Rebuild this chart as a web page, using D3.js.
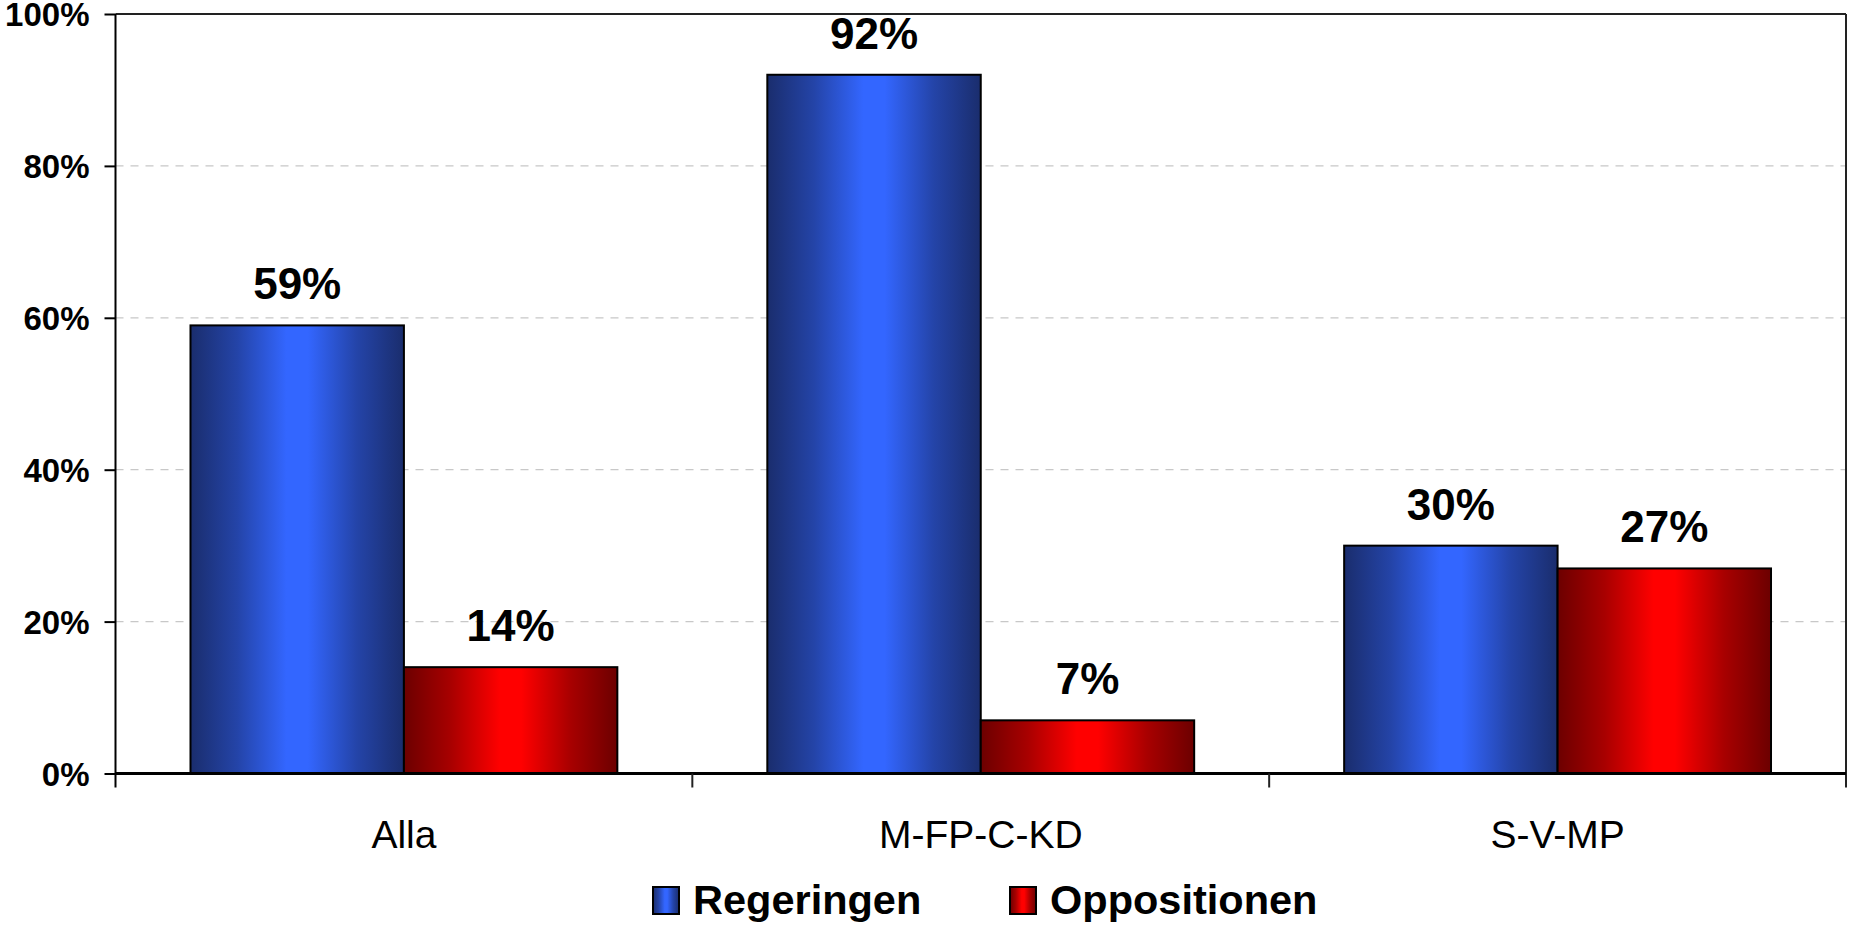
<!DOCTYPE html>
<html>
<head>
<meta charset="utf-8">
<script src="https://cdn.jsdelivr.net/npm/d3@7"></script>
<style>
  html, body { margin: 0; padding: 0; background: #fff; }
  svg { display: block; font-family: "Liberation Sans", Arial, Helvetica, sans-serif; }
</style>
</head>
<body>
<svg id="chart" width="1849" height="926"></svg>
<script>
const categories = ["Alla", "M-FP-C-KD", "S-V-MP"];
const seriesNames = ["Regeringen", "Oppositionen"];
const regeringen = [0.59, 0.92, 0.30];
const oppositionen = [0.14, 0.07, 0.27];
const yTicks = [0, 0.2, 0.4, 0.6, 0.8, 1.0];

(function () {
const seriesValues = [regeringen, oppositionen];
const rows = categories.map((c, i) => ({ cat: c, vals: seriesNames.map((s, j) => ({ series: s, idx: j, value: seriesValues[j][i] })) }));

const pLeft = 115.5, pRight = 1846, pTop = 14, pBottom = 773.5;

const svg = d3.select("#chart");
const defs = svg.append("defs");

function grad(id, dark, mid, bright) {
  const g = defs.append("linearGradient").attr("id", id).attr("x1", "0%").attr("x2", "100%").attr("y1", "0%").attr("y2", "0%");
  [[0, dark], [0.22, mid], [0.45, bright], [0.55, bright], [0.78, mid], [1, dark]].forEach(([o, c]) =>
    g.append("stop").attr("offset", o).attr("stop-color", c));
}
grad("gBlue", "#1a2d6d", "#2444a8", "#3366ff");
grad("gRed", "#6c0000", "#a80000", "#ff0000");
const fills = ["url(#gBlue)", "url(#gRed)"];

const x0 = d3.scaleBand().domain(categories).range([pLeft, pRight]).paddingInner(0).paddingOuter(0);
const bw = x0.bandwidth();
const x1 = d3.scaleBand().domain(seriesNames).range([bw * 0.13, bw * 0.87]).padding(0);
const y = d3.scaleLinear().domain([0, 1]).range([pBottom, pTop]);

// gridlines
svg.append("g").selectAll("line").data(yTicks.filter(t => t > 0 && t < 1)).join("line")
  .attr("x1", pLeft).attr("x2", pRight)
  .attr("y1", d => y(d)).attr("y2", d => y(d))
  .attr("stroke", "#c8c8c8").attr("stroke-width", 1.2).attr("stroke-dasharray", "8,7");

// plot border top & right
svg.append("line").attr("x1", pLeft).attr("x2", pRight).attr("y1", y(1)).attr("y2", y(1)).attr("stroke", "#222").attr("stroke-width", 2);
svg.append("line").attr("x1", pRight).attr("x2", pRight).attr("y1", y(1)).attr("y2", pBottom + 14).attr("stroke", "#222").attr("stroke-width", 2);

// bars
const groups = svg.append("g").selectAll("g").data(rows).join("g")
  .attr("transform", d => `translate(${x0(d.cat)},0)`);
groups.selectAll("rect").data(d => d.vals).join("rect")
  .attr("x", d => x1(d.series))
  .attr("y", d => y(d.value))
  .attr("width", x1.bandwidth())
  .attr("height", d => pBottom - y(d.value))
  .attr("fill", d => fills[d.idx])
  .attr("stroke", "#000").attr("stroke-width", 2);

// value labels
groups.selectAll("text").data(d => d.vals).join("text")
  .attr("x", d => x1(d.series) + x1.bandwidth() / 2)
  .attr("y", d => y(d.value) - 26)
  .attr("text-anchor", "middle")
  .attr("font-size", 44).attr("font-weight", "bold").attr("fill", "#000")
  .text(d => Math.round(d.value * 100) + "%");

// y axis
const yAxis = d3.axisLeft(y).tickValues(yTicks).tickFormat(d3.format(".0%")).tickSize(11).tickPadding(15);
const ya = svg.append("g").attr("transform", `translate(${pLeft},0)`).call(yAxis);
ya.select(".domain").remove();
ya.selectAll(".tick line").attr("stroke", "#000").attr("stroke-width", 2);
ya.selectAll(".tick text").attr("font-size", 33).attr("font-weight", "bold").attr("fill", "#000")
  .attr("font-family", "'Liberation Sans', Arial, sans-serif").attr("dy", "0.36em");
svg.append("line").attr("x1", pLeft).attr("x2", pLeft).attr("y1", pTop).attr("y2", pBottom + 14).attr("stroke", "#000").attr("stroke-width", 2);

// x axis
const xAxis = d3.axisBottom(x0).tickSize(0).tickPadding(0);
const xa = svg.append("g").attr("transform", `translate(0,${pBottom})`).call(xAxis);
xa.select(".domain").remove();
xa.selectAll(".tick text").attr("font-size", 39).attr("fill", "#000")
  .attr("font-family", "'Liberation Sans', Arial, sans-serif").attr("dy", 0).attr("y", 74);
svg.append("line").attr("x1", pLeft).attr("x2", pRight).attr("y1", pBottom).attr("y2", pBottom).attr("stroke", "#000").attr("stroke-width", 3);
svg.append("g").selectAll("line").data(categories.slice(1)).join("line")
  .attr("x1", d => x0(d)).attr("x2", d => x0(d)).attr("y1", pBottom).attr("y2", pBottom + 14)
  .attr("stroke", "#222").attr("stroke-width", 2);

// legend
const legendX = [653, 1010];
const lg = svg.append("g").selectAll("g").data(seriesNames).join("g")
  .attr("transform", (d, i) => `translate(${legendX[i]},887)`);
lg.append("rect").attr("width", 26).attr("height", 27).attr("fill", (d, i) => fills[i]).attr("stroke", "#000").attr("stroke-width", 2);
lg.append("text").attr("x", 40).attr("y", 27).attr("font-size", 41.5).attr("font-weight", "bold").attr("fill", "#000").text(d => d);
})();
</script>
</body>
</html>
